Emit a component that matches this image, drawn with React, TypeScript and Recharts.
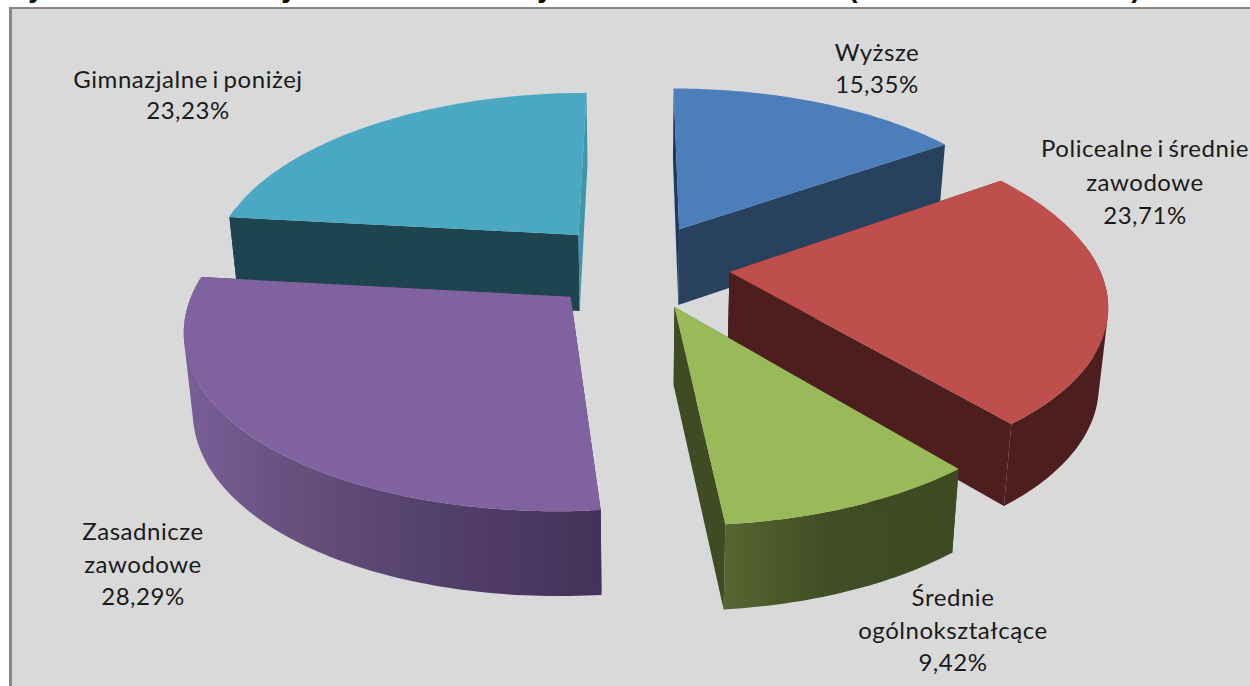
import React from "react";
import { PieChart, Pie } from "recharts";

// Drawing order is back-to-front, so the series starts at the far-left slice.
const categories = [
  "Gimnazjalne i poniżej",
  "Wyższe",
  "Policealne i średnie\nzawodowe",
  "Średnie\nogólnokształcące",
  "Zasadnicze\nzawodowe",
];
const shares = [23.23, 15.35, 23.71, 9.42, 28.29];
const titleTails = ["y", "y", "y", "(", ")"];

const rows = categories.map((name, i) => ({ name, value: shares[i] }));

const W = 1250;
const H = 686;
const CX = 638;
const CY = 266;
const RADIUS = 369;
const SQUASH = 172 / 369;
const EXPLODE = 0.249;
const PERSPECTIVE_X = 0.16;
const PERSPECTIVE_Y = 0.15;
const DEPTH = 77;
const WALL_TAPER = 0.98;

const FONT = "Lato, 'Open Sans', sans-serif";
const FONT_SIZE = 24;

type Look = {
  top: string;
  walls: [number, string][];
  startFace: string;
  endFace: string;
};

const looks: Look[] = [
  { top: "#4AA8C3", walls: [[0, "#1E4450"], [1, "#1E4450"]], startFace: "#1E4450", endFace: "#3F95AC" },
  { top: "#4C7EBB", walls: [[0, "#27415F"], [1, "#27415F"]], startFace: "#1F3A5C", endFace: "#27415F" },
  { top: "#BE4F4C", walls: [[0, "#4C1E1E"], [1, "#4C1E1E"]], startFace: "#4C1E1E", endFace: "#4C1E1E" },
  { top: "#9AB959", walls: [[0, "#566631"], [0.45, "#414D24"], [1, "#3E4A22"]], startFace: "#3E4A22", endFace: "#3E4B23" },
  { top: "#7F629F", walls: [[0, "#7A5F98"], [0.25, "#67517F"], [0.6, "#54406C"], [1, "#45325A"]], startFace: "#45325A", endFace: "#45325A" },
];

const labelPlacement: { x: number; y: number; line: number }[] = [
  { x: 188, y: 80, line: 31 },
  { x: 877, y: 53, line: 32 },
  { x: 1145, y: 149, line: 33.5 },
  { x: 953, y: 598, line: 32.5 },
  { x: 143, y: 532, line: 32.5 },
];

const rad = (d: number) => (d * Math.PI) / 180;

const projector = (cx: number, cy: number, r: number, mid: number) => {
  const ox = EXPLODE * Math.sin(rad(mid));
  const oy = EXPLODE * Math.cos(rad(mid));
  const at = (wx: number, wy: number, down: boolean) => {
    const sx = 1 / (1 + PERSPECTIVE_X * wy);
    const sy = 1 / (1 + PERSPECTIVE_Y * wy);
    const x = r * wx * sx;
    const y = -r * SQUASH * wy * sy;
    return down
      ? [cx + x * WALL_TAPER, cy + y + DEPTH * Math.sqrt(sy)]
      : [cx + x, cy + y];
  };
  return {
    apex: (down: boolean) => at(ox, oy, down),
    rim: (a: number, down: boolean) =>
      at(ox + Math.sin(rad(a)), oy + Math.cos(rad(a)), down),
  };
};

const toPath = (pts: number[][]) =>
  "M" + pts.map((p) => `${p[0].toFixed(2)},${p[1].toFixed(2)}`).join("L") + "Z";

// Same winding for every quad, so that one compound path fills without seams.
const wound = (q: number[][]) => {
  let area = 0;
  q.forEach((p, i) => {
    const n = q[(i + 1) % q.length];
    area += p[0] * n[1] - n[0] * p[1];
  });
  return area < 0 ? [...q].reverse() : q;
};

const Slice3D = (props: any) => {
  const { cx, cy, outerRadius, startAngle, endAngle, index } = props;
  const look = looks[index ?? 0];
  // Recharts angles run counter-clockwise from 3 o'clock; here: clockwise from 12.
  const a0 = 90 - startAngle;
  const a1 = 90 - endAngle;
  const mid = (a0 + a1) / 2;
  const p = projector(cx, cy, outerRadius, mid);
  const steps = Math.max(6, Math.ceil(a1 - a0));
  const angles = Array.from({ length: steps + 1 }, (_, i) => a0 + ((a1 - a0) * i) / steps);
  const rimTop = angles.map((a) => p.rim(a, false));
  const rimBottom = angles.map((a) => p.rim(a, true));
  const xs = rimTop.map((q) => q[0]).concat(rimBottom.map((q) => q[0]));
  const id = `wall-${index}`;
  const wall = angles
    .slice(1)
    .map((_, i) =>
      Math.cos(rad(angles[i])) < 0.15 || Math.cos(rad(angles[i + 1])) < 0.15
        ? toPath(wound([rimTop[i], rimTop[i + 1], rimBottom[i + 1], rimBottom[i]]))
        : ""
    )
    .join("");
  return (
    <g>
      <defs>
        <linearGradient
          id={id}
          gradientUnits="userSpaceOnUse"
          x1={Math.min(...xs)}
          x2={Math.max(...xs)}
          y1={0}
          y2={0}
        >
          {look.walls.map(([o, c]) => (
            <stop key={o} offset={o} stopColor={c} />
          ))}
        </linearGradient>
      </defs>
      {wall ? <path d={wall} fill={`url(#${id})`} fillRule="nonzero" /> : null}
      <path
        d={toPath([p.apex(false), rimTop[0], rimBottom[0], p.apex(true)])}
        fill={look.startFace}
      />
      <path
        d={toPath([p.apex(false), rimTop[steps], rimBottom[steps], p.apex(true)])}
        fill={look.endFace}
      />
      <path d={toPath([p.apex(false), ...rimTop])} fill={look.top} />
    </g>
  );
};

const SliceLabel = (props: any) => {
  const { index, name, value } = props;
  const { x, y, line } = labelPlacement[index];
  const lines = [...String(name).split("\n"), `${Number(value).toFixed(2).replace(".", ",")}%`];
  return (
    <text
      textAnchor="middle"
      fontFamily={FONT}
      fontSize={FONT_SIZE}
      letterSpacing={0.55}
      wordSpacing={-2}
      fill="#1A1A1A"
    >
      {lines.map((t, i) => (
        <tspan key={i} x={x} y={y + 8 + i * line}>
          {t}
        </tspan>
      ))}
    </text>
  );
};

const before = shares.slice(1).reduce((a, b) => a + b, 0);
const START = 90 - (360 * before) / 100;

export default function App() {
  return (
    <div
      style={{
        position: "absolute",
        left: 0,
        top: 0,
        width: W,
        height: H,
        overflow: "hidden",
        background: "#FFFFFF",
      }}
    >
      <div
        style={{
          position: "absolute",
          left: 9,
          top: 7,
          width: W + 50,
          height: H + 50,
          background: "#D9D9D9",
          borderLeft: "3px solid #868686",
          borderTop: "2px solid #868686",
        }}
      />
      <svg width={W} height={8} style={{ position: "absolute", left: 0, top: 0 }}>
        {titleTails.map((t, i) => (
          <text
            key={i}
            x={[36, 289, 545, 853, 1136][i]}
            y={-3}
            fontFamily="'Liberation Sans', sans-serif"
            fontWeight="bold"
            fontSize={28}
            textAnchor="middle"
            fill="#000"
          >
            {t}
          </text>
        ))}
      </svg>
      <div style={{ position: "absolute", left: 0, top: 0 }}>
        <PieChart width={W} height={H} margin={{ top: 0, right: 0, bottom: 0, left: 0 }}>
          <Pie
            data={rows}
            dataKey="value"
            nameKey="name"
            cx={CX}
            cy={CY}
            innerRadius={0}
            outerRadius={RADIUS}
            startAngle={START}
            endAngle={START - 360}
            stroke="none"
            isAnimationActive={false}
            shape={Slice3D}
            inactiveShape={Slice3D}
            activeShape={Slice3D}
            label={SliceLabel}
            labelLine={false}
          />
        </PieChart>
      </div>
    </div>
  );
}
